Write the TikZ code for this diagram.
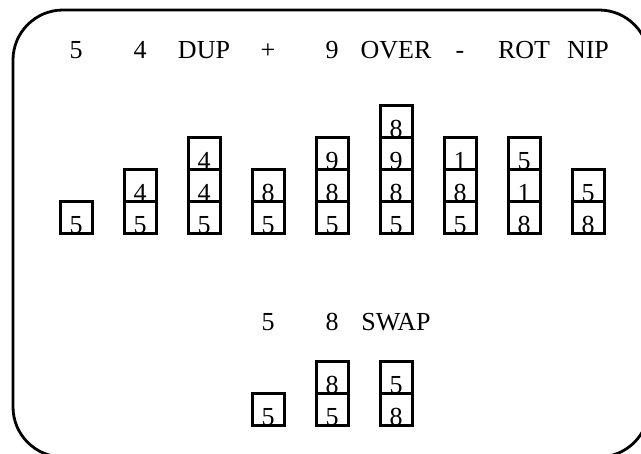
\documentclass[tikz,border=0pt]{standalone}
\usepackage{fontspec}
\setmainfont{Liberation Serif}
\begin{document}
\begin{tikzpicture}[x=1pt,y=-1pt,
  cell/.style={draw, line width=3pt, inner sep=0pt, text width=32pt,
    text height=32pt, text depth=0pt, align=center,
    font=\fontsize{26}{26}\selectfont},
  word/.style={anchor=base, inner sep=0pt, font=\fontsize{26}{30}\selectfont}]
\useasboundingbox (0,0) rectangle (641,454);
\draw[line width=2.8pt, rounded corners=50pt] (13,10) rectangle (649,457);
% top labels
\foreach \c/\t in {1/5, 2/4, 3/DUP, 4/+, 5/9, 6/OVER, 7/-, 8/ROT, 9/NIP}
  \node[word] (w\c) at ({12+64*\c}, 59) {\t};
% top stacks
\foreach \c/\lst in {1/{5}, 2/{5,4}, 3/{5,4,4}, 4/{5,8}, 5/{5,8,9},
    6/{5,8,9,8}, 7/{5,8,1}, 8/{8,1,5}, 9/{8,5}}
  \foreach \v [count=\r] in \lst
    \node[cell] (s\c-\r) at ({12+64*\c}, {250-32*\r}) {\v};
% bottom labels
\foreach \c/\t in {1/5, 2/8, 3/SWAP}
  \node[word] (b\c) at ({204+64*\c}, 331) {\t};
% bottom stacks
\foreach \c/\lst in {1/{5}, 2/{5,8}, 3/{8,5}}
  \foreach \v [count=\r] in \lst
    \node[cell] (t\c-\r) at ({204+64*\c}, {442-32*\r}) {\v};
\end{tikzpicture}
\end{document}
